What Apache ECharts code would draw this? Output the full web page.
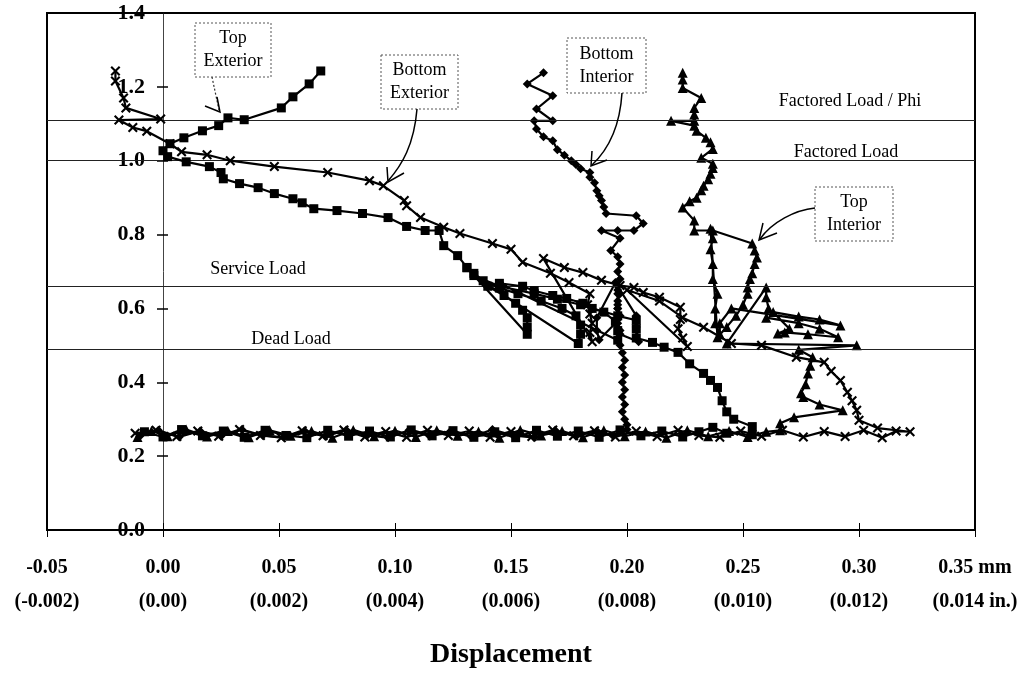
<!DOCTYPE html>
<html><head><meta charset="utf-8">
<script src="https://cdn.jsdelivr.net/npm/echarts@6/dist/echarts.min.js"></script>
<style>html,body{margin:0;padding:0;background:#fff}#c{width:1028px;height:674px}</style>
</head><body><div id="c"></div>
<script>
// ---- data (displacement in mm, load ratio) ----
const xTickMm = ['-0.05','0.00','0.05','0.10','0.15','0.20','0.25','0.30','0.35 mm'];
const xTickIn = ['(-0.002)','(0.00)','(0.002)','(0.004)','(0.006)','(0.008)','(0.010)','(0.012)','(0.014 in.)'];
const yTicks = ['0.0','0.2','0.4','0.6','0.8','1.0','1.2','1.4'];
const refLoads = [1.11, 1.0, 0.66, 0.49];
const refNames = ['Factored Load / Phi','Factored Load','Service Load','Dead Load'];

const topExterior = [
[-0.008,0.266],[0.0,0.252],[0.008,0.272],[0.017,0.255],[0.026,0.268],[0.035,0.251],[0.044,0.27],[0.053,0.256],[0.062,0.25],[0.071,0.27],[0.08,0.254],[0.089,0.268],[0.098,0.252],[0.107,0.271],[0.116,0.255],[0.125,0.269],[0.134,0.251],[0.143,0.266],[0.152,0.25],[0.161,0.27],[0.17,0.254],[0.179,0.268],[0.188,0.251],[0.197,0.271],[0.206,0.255],[0.215,0.268],[0.224,0.252],[0.231,0.266],[0.237,0.278],[0.243,0.262],[0.254,0.258],
[0.254,0.28],[0.246,0.30],[0.243,0.32],[0.241,0.35],[0.239,0.386],[0.236,0.405],[0.233,0.424],[0.227,0.45],[0.222,0.481],[0.216,0.495],[0.211,0.508],
[0.204,0.52],[0.204,0.545],[0.204,0.568],[0.196,0.58],[0.185,0.6],[0.181,0.614],[0.174,0.627],[0.168,0.635],[0.16,0.648],[0.155,0.66],[0.145,0.668],
[0.196,0.514],[0.196,0.54],[0.195,0.565],[0.19,0.59],[0.18,0.61],[0.17,0.625],[0.16,0.64],[0.145,0.66],[0.134,0.689],
[0.179,0.505],[0.18,0.53],[0.18,0.555],[0.178,0.58],[0.172,0.6],[0.163,0.62],[0.153,0.64],[0.145,0.655],[0.138,0.675],[0.131,0.71],
[0.157,0.53],[0.157,0.55],[0.157,0.575],[0.155,0.595],[0.152,0.614],[0.147,0.635],[0.14,0.66],[0.134,0.695],[0.131,0.711],[0.127,0.743],[0.121,0.77],[0.119,0.811],[0.113,0.811],[0.105,0.822],[0.097,0.846],[0.086,0.857],[0.075,0.865],[0.065,0.87],[0.06,0.886],[0.056,0.897],[0.048,0.911],[0.041,0.927],[0.033,0.938],[0.026,0.951],[0.025,0.968],[0.02,0.984],[0.01,0.997],[0.002,1.011],[0.0,1.027],[0.003,1.046],[0.009,1.062],[0.017,1.081],[0.024,1.095],[0.028,1.116],[0.035,1.111],[0.051,1.143],[0.056,1.173],[0.063,1.208],[0.068,1.243]
];

const bottomExterior = [
[-0.012,0.262],[-0.003,0.27],[0.006,0.253],[0.015,0.268],[0.024,0.254],[0.033,0.272],[0.042,0.256],[0.051,0.25],[0.06,0.269],[0.069,0.255],[0.078,0.271],[0.087,0.252],[0.096,0.267],[0.105,0.251],[0.114,0.27],[0.123,0.256],[0.132,0.268],[0.141,0.251],[0.15,0.267],[0.159,0.253],[0.168,0.271],[0.177,0.255],[0.186,0.269],[0.195,0.252],[0.204,0.268],[0.213,0.253],[0.222,0.27],[0.231,0.256],[0.24,0.251],[0.249,0.268],[0.258,0.254],[0.267,0.27],[0.276,0.252],[0.285,0.267],[0.294,0.253],[0.302,0.27],[0.31,0.25],[0.316,0.268],[0.322,0.266],
[0.308,0.276],[0.30,0.297],[0.299,0.324],[0.297,0.35],[0.295,0.373],[0.292,0.405],[0.288,0.43],[0.285,0.454],[0.273,0.468],[0.258,0.50],[0.245,0.505],[0.233,0.549],[0.224,0.575],[0.214,0.62],[0.2,0.65],
[0.226,0.497],[0.224,0.52],[0.222,0.545],[0.223,0.57],[0.223,0.603],[0.214,0.63],[0.207,0.643],[0.203,0.657],[0.197,0.662],[0.189,0.676],[0.181,0.697],[0.173,0.711],[0.164,0.735],
[0.185,0.51],[0.184,0.535],[0.185,0.56],[0.184,0.585],[0.183,0.61],[0.184,0.64],[0.175,0.67],[0.167,0.695],[0.155,0.725],[0.15,0.76],[0.142,0.776],[0.128,0.803],
[0.121,0.82],[0.111,0.846],[0.105,0.878],[0.104,0.892],[0.095,0.932],[0.089,0.946],[0.071,0.968],[0.048,0.984],[0.029,1.0],[0.019,1.016],[0.008,1.024],[0.003,1.046],[-0.007,1.08],[-0.013,1.09],[-0.019,1.11],[-0.001,1.113],[-0.016,1.143],[-0.017,1.17],[-0.0205,1.216],[-0.0205,1.243]
];

const bottomInterior = [
[-0.01,0.254],[-0.002,0.27],[0.007,0.252],[0.016,0.268],[0.025,0.254],[0.034,0.272],[0.043,0.256],[0.052,0.251],[0.061,0.269],[0.07,0.253],[0.079,0.271],[0.088,0.256],[0.097,0.25],[0.106,0.27],[0.115,0.254],[0.124,0.268],[0.133,0.252],[0.142,0.272],[0.151,0.256],[0.16,0.25],[0.169,0.27],[0.178,0.254],[0.187,0.268],[0.194,0.255],[0.2,0.272],
[0.2,0.285],[0.199,0.30],[0.198,0.32],[0.199,0.34],[0.198,0.36],[0.199,0.38],[0.198,0.40],[0.199,0.42],[0.198,0.44],[0.199,0.46],[0.198,0.48],[0.197,0.50],[0.196,0.52],[0.197,0.54],[0.196,0.56],[0.197,0.58],[0.196,0.60],[0.196,0.62],[0.197,0.64],[0.196,0.66],
[0.204,0.58],[0.204,0.55],[0.205,0.51],[0.197,0.53],[0.196,0.57],[0.196,0.61],[0.196,0.65],[0.195,0.67],
[0.187,0.575],[0.187,0.54],[0.188,0.515],[0.195,0.56],[0.196,0.6],[0.196,0.64],[0.197,0.68],[0.196,0.70],[0.197,0.72],[0.196,0.74],[0.193,0.757],[0.197,0.79],[0.189,0.811],[0.196,0.811],[0.203,0.811],[0.207,0.83],[0.204,0.851],[0.191,0.857],[0.19,0.875],[0.189,0.892],[0.188,0.905],[0.187,0.919],[0.186,0.94],[0.184,0.955],[0.184,0.968],[0.18,0.978],[0.178,0.99],[0.176,1.0],[0.173,1.015],[0.17,1.03],[0.168,1.054],[0.164,1.065],[0.161,1.086],[0.16,1.108],[0.168,1.108],[0.161,1.14],[0.168,1.176],[0.157,1.208],[0.164,1.238]
];

const topInterior = [
[-0.011,0.252],[-0.005,0.268],[0.002,0.254],[0.01,0.272],[0.019,0.253],[0.028,0.268],[0.037,0.251],[0.046,0.27],[0.055,0.255],[0.064,0.268],[0.073,0.25],[0.082,0.271],[0.091,0.254],[0.1,0.269],[0.109,0.252],[0.118,0.27],[0.127,0.255],[0.136,0.267],[0.145,0.25],[0.154,0.271],[0.163,0.256],[0.172,0.268],[0.181,0.251],[0.19,0.27],[0.199,0.254],[0.208,0.267],[0.217,0.25],[0.226,0.27],[0.235,0.254],[0.244,0.268],[0.252,0.252],[0.26,0.266],[0.266,0.27],
[0.266,0.289],[0.272,0.305],[0.293,0.324],[0.283,0.34],[0.276,0.36],[0.275,0.37],[0.277,0.395],[0.278,0.424],[0.279,0.445],[0.28,0.468],[0.274,0.488],[0.299,0.50],[0.243,0.505],[0.26,0.657],[0.26,0.63],[0.261,0.60],[0.26,0.575],[0.274,0.56],[0.283,0.545],[0.291,0.522],[0.278,0.53],[0.268,0.535],[0.265,0.532],[0.27,0.545],[0.263,0.59],[0.274,0.578],[0.283,0.57],[0.292,0.554],
[0.245,0.60],[0.24,0.56],[0.24,0.53],[0.238,0.56],[0.238,0.6],[0.239,0.64],[0.237,0.68],[0.237,0.72],[0.236,0.76],[0.237,0.79],[0.236,0.816],[0.239,0.522],[0.243,0.55],[0.247,0.58],[0.25,0.61],[0.252,0.64],[0.252,0.657],[0.253,0.68],[0.254,0.695],[0.255,0.72],[0.256,0.738],[0.255,0.757],[0.254,0.776],[0.237,0.811],[0.229,0.811],[0.229,0.838],[0.224,0.873],[0.227,0.89],[0.23,0.9],[0.232,0.92],[0.233,0.932],[0.235,0.95],[0.236,0.965],[0.237,0.98],[0.237,0.992],[0.232,1.008],[0.237,1.032],[0.236,1.05],[0.234,1.062],[0.23,1.081],[0.229,1.095],[0.219,1.108],[0.229,1.108],[0.229,1.125],[0.229,1.143],[0.232,1.17],[0.224,1.197],[0.224,1.22],[0.224,1.238]
];

// ---- chart ----
const SERIF = '"Liberation Serif","Times New Roman",serif';
const X_SYMBOL = 'path://M0,1.5L1.5,0L5,3.5L8.5,0L10,1.5L6.5,5L10,8.5L8.5,10L5,6.5L1.5,10L0,8.5L3.5,5Z';
const GRID_LEFT = 47, GRID_RIGHT = 53, GRID_W = 1028 - GRID_LEFT - GRID_RIGHT;
const X_MIN = -0.05, X_MAX = 0.35;
const zeroPx = GRID_W * (0 - X_MIN) / (X_MAX - X_MIN); // distance of x=0 from grid left

function mk(name, data, symbol, size, z) {
  return {
    type: 'line', name: name, data: data, symbol: symbol, symbolSize: size,
    showAllSymbol: true, animation: false, z: z,
    lineStyle: { color: '#000', width: 2.2 },
    itemStyle: { color: '#000' }
  };
}

const chart = echarts.init(document.getElementById('c'), null, { renderer: 'canvas' });

const series = [
  mk('Top Exterior', topExterior, 'rect', 9, 5),
  mk('Bottom Exterior', bottomExterior, X_SYMBOL, 10, 6),
  mk('Bottom Interior', bottomInterior, 'diamond', 9, 4),
  mk('Top Interior', topInterior, 'triangle', 10, 3)
];
series.push({
  type: 'line', data: [], silent: true, animation: false, z: 1,
  markLine: {
    silent: true, symbol: ['none', 'none'], animation: false,
    label: { show: false },
    lineStyle: { color: '#222', width: 1, type: 'solid' },
    data: refLoads.map(v => ({ yAxis: v }))
  }
});

const refLabelPos = [[850, 101], [846, 152], [258, 269], [291, 339]];
const graphics = [];
refNames.forEach((t, i) => {
  graphics.push({ type: 'text', x: refLabelPos[i][0], y: refLabelPos[i][1], z: 50,
    style: { text: t, font: '18px ' + SERIF, fill: '#000', align: 'center', verticalAlign: 'middle' } });
});
function box(x, y, w, h, text) {
  graphics.push({ type: 'rect', z: 50, shape: { x: x, y: y, width: w, height: h },
    style: { fill: '#fff', stroke: '#555', lineWidth: 1, lineDash: [2, 2] } });
  graphics.push({ type: 'text', z: 51, x: x + w / 2, y: y + h / 2,
    style: { text: text, font: '18px ' + SERIF, fill: '#000', align: 'center', verticalAlign: 'middle', lineHeight: 23 } });
}
box(195, 23, 76, 54, 'Top\nExterior');
box(381, 55, 77, 54, 'Bottom\nExterior');
box(567, 38, 79, 55, 'Bottom\nInterior');
box(815, 187, 78, 54, 'Top\nInterior');
// arrows
graphics.push({ type: 'line', z: 50, shape: { x1: 212, y1: 77, x2: 219, y2: 110 }, style: { stroke: '#333', lineWidth: 1.2, lineDash: [2, 2] } });
graphics.push({ type: 'polyline', z: 50, shape: { points: [[205, 106], [220, 112], [217, 97]] }, style: { stroke: '#000', lineWidth: 1.5, fill: null } });
graphics.push({ type: 'bezierCurve', z: 50, shape: { x1: 417, y1: 109, cpx1: 414, cpy1: 145, cpx2: 402, cpy2: 165, x2: 388, y2: 181 }, style: { stroke: '#000', lineWidth: 1.5, fill: null } });
graphics.push({ type: 'polyline', z: 50, shape: { points: [[387, 167], [388, 182], [404, 173]] }, style: { stroke: '#000', lineWidth: 1.5, fill: null } });
graphics.push({ type: 'bezierCurve', z: 50, shape: { x1: 622, y1: 93, cpx1: 620, cpy1: 125, cpx2: 610, cpy2: 148, x2: 592, y2: 165 }, style: { stroke: '#000', lineWidth: 1.5, fill: null } });
graphics.push({ type: 'polyline', z: 50, shape: { points: [[592, 151], [591, 166], [607, 160]] }, style: { stroke: '#000', lineWidth: 1.5, fill: null } });
graphics.push({ type: 'bezierCurve', z: 50, shape: { x1: 815, y1: 208, cpx1: 795, cpy1: 210, cpx2: 772, cpy2: 222, x2: 760, y2: 239 }, style: { stroke: '#000', lineWidth: 1.5, fill: null } });
graphics.push({ type: 'polyline', z: 50, shape: { points: [[763, 223], [759, 240], [777, 233]] }, style: { stroke: '#000', lineWidth: 1.5, fill: null } });

const option = {
  backgroundColor: '#fff',
  animation: false,
  grid: { left: GRID_LEFT, right: GRID_RIGHT, top: 13, bottom: 144, show: true, borderColor: '#000', borderWidth: 2,
          containLabel: false, outerBoundsMode: 'none' },
  xAxis: {
    type: 'value', min: X_MIN, max: X_MAX, interval: 0.05, offset: -7,
    axisLine: { show: false, onZero: false },
    axisTick: { show: true, length: 14, lineStyle: { color: '#000', width: 1 } },
    splitLine: { show: false },
    axisLabel: {
      margin: 28, color: '#000', fontFamily: SERIF, fontWeight: 'bold', fontSize: 20, lineHeight: 34,
      showMinLabel: true, showMaxLabel: true, hideOverlap: false,
      formatter: v => { const i = Math.round((v + 0.05) / 0.05); return xTickMm[i] + '\n' + xTickIn[i]; }
    },
    name: 'Displacement', nameLocation: 'middle', nameGap: 118,
    nameTextStyle: { color: '#000', fontFamily: SERIF, fontWeight: 'bold', fontSize: 28 }
  },
  yAxis: [{
    type: 'value', min: 0, max: 1.4, interval: 0.2, position: 'left', offset: -zeroPx,
    axisLine: { show: true, onZero: false, lineStyle: { color: '#444', width: 1 } },
    axisTick: { show: true, length: 6, lineStyle: { color: '#000', width: 1.5 } },
    splitLine: { show: false },
    axisLabel: { margin: 18, color: '#000', fontFamily: SERIF, fontWeight: 'bold', fontSize: 22,
      showMinLabel: true, showMaxLabel: true,
      formatter: v => yTicks[Math.round(v / 0.2)] }
  }, {
    type: 'value', min: 0, max: 1.4, interval: 0.2, position: 'right', offset: -(GRID_W - zeroPx),
    axisLine: { show: false, onZero: false },
    axisTick: { show: true, length: 5, lineStyle: { color: '#000', width: 1.5 } },
    splitLine: { show: false },
    axisLabel: { show: false }
  }],
  series: series,
  graphic: graphics
};
chart.setOption(option);
</script>
</body></html>
